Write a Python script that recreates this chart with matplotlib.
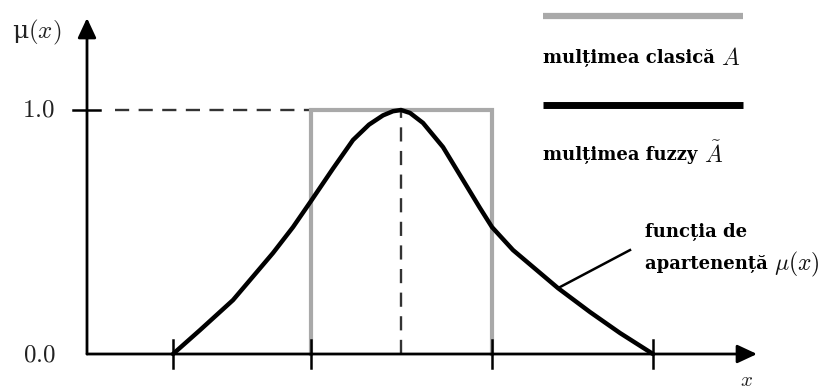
import numpy as np
from matplotlib import pyplot as plt

plt.rcParams['mathtext.fontset'] = 'cm'

# fuzzy membership function (x in arbitrary units, y axis at x = 0)
fuzzy_x = [8.6, 11.3, 14.6, 18.6, 20.6, 22.4, 24.6, 26.6, 28.2, 29.6, 30.6, 31.4,
           32.3, 33.6, 35.6, 39.3, 40.5, 42.6, 47.1, 50.3, 53.3, 56.6]
fuzzy_mu = [0.0, 0.098, 0.221, 0.414, 0.520, 0.627, 0.760, 0.877, 0.940, 0.978, 0.995, 1.0,
            0.988, 0.947, 0.848, 0.598, 0.520, 0.426, 0.270, 0.172, 0.086, 0.0]

# classic (crisp) set A = [a, b]
crisp_a, crisp_b = 22.4, 40.5
peak_x = 31.4
x_ticks = [8.6, 22.4, 40.5, 56.6]
x_end, y_end = 67.0, 1.377

fig = plt.figure(figsize=(8.22, 3.90), dpi=100)
ax = fig.add_axes([0, 0, 1, 1])
ax.set_xlim(-8.7, 73.5)
ax.set_ylim(-0.1475, 1.4508)
ax.axis('off')

gray = '#a9a9a9'
serif_bold = dict(family='DejaVu Serif', fontweight='bold', fontsize=13)


def label(x, y, words, math):
    # bold words followed by a larger math symbol
    t = ax.text(x, y, words + ' ', ha='left', va='center', **serif_bold)
    ax.annotate(math, xy=(1, 0.5), xycoords=t, ha='left', va='center',
                fontsize=17, color='#111111')
    return t


# axes with arrows
arrow = dict(arrowstyle='-|>,head_length=0.6,head_width=0.28', lw=2,
             color='black', mutation_scale=20, shrinkA=0, shrinkB=0)
ax.annotate('', xy=(x_end, 0), xytext=(0, 0), arrowprops=arrow)
ax.annotate('', xy=(0, y_end), xytext=(0, 0), arrowprops=arrow)

# crisp set rectangle
ax.plot([crisp_a, crisp_a, crisp_b, crisp_b], [0, 1, 1, 0], color=gray, lw=3,
        solid_joinstyle='miter', zorder=2)

# dashed guides to the peak
ax.plot([2.8, peak_x], [1, 1], color='#333333', lw=1.7, dashes=(6, 4), zorder=1)
ax.plot([peak_x, peak_x], [0, 1], color='#333333', lw=1.7, dashes=(6, 4), zorder=1)

# fuzzy curve
ax.plot(fuzzy_x, fuzzy_mu, color='black', lw=3.2, solid_capstyle='round',
        solid_joinstyle='round', zorder=3)

# ticks
for t in x_ticks:
    ax.plot([t, t], [-0.057, 0.057], color='black', lw=1.8, zorder=4)
ax.plot([-1.4, 1.3], [1, 1], color='black', lw=1.8, zorder=4)

# axis labels
ax.text(-5.0, 1.316, 'μ$(x)$', fontsize=18, ha='center', va='center',
        family='DejaVu Serif', color='#222222')
ax.text(-4.9, 1.0, '$1.0$', fontsize=18, ha='center', va='center', color='#222222')
ax.text(-4.8, 0.0, '$0.0$', fontsize=18, ha='center', va='center', color='#222222')
ax.text(65.9, -0.105, '$x$', fontsize=15, ha='center', va='center', color='#222222')

# legend
ax.plot([45.6, 65.6], [1.385, 1.385], color=gray, lw=4.5, solid_capstyle='butt')
label(45.6, 1.213, 'mulțimea clasică', '$A$')
ax.plot([45.6, 65.6], [1.02, 1.02], color='black', lw=5, solid_capstyle='butt')
label(45.6, 0.816, 'mulțimea fuzzy', r'$\tilde{A}$')

# annotation of membership function
ax.plot([47.1, 54.3], [0.270, 0.426], color='black', lw=1.8)
ax.text(55.8, 0.50, 'funcția de', ha='left', va='center', **serif_bold)
label(55.8, 0.369, 'apartenență', r'$\mu(x)$')

fig.savefig('out.png', dpi=100)
